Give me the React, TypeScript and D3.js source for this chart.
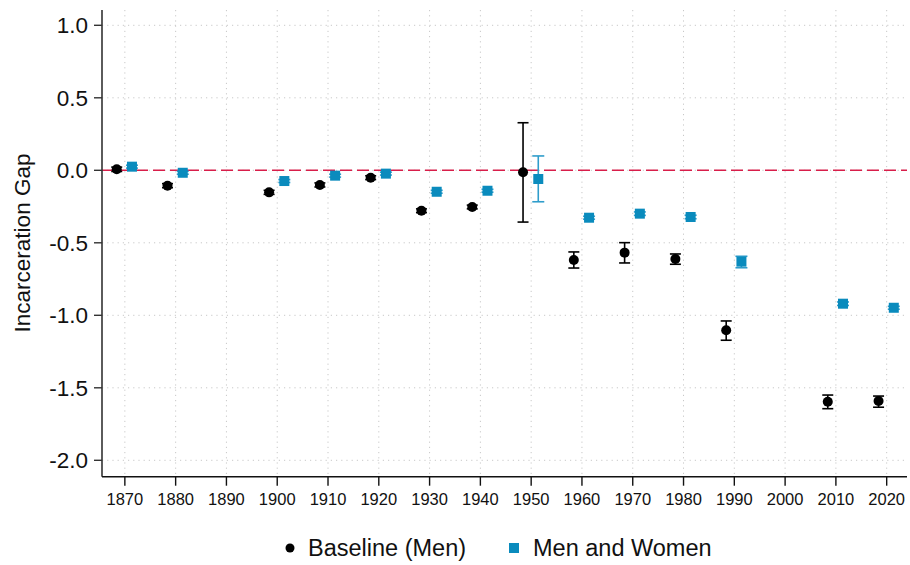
import React from "react";
import * as d3 from "d3";

const decades = [1870, 1880, 1900, 1910, 1920, 1930, 1940, 1950, 1960, 1970, 1980, 1990, 2010, 2020];
const baseline = [0.007, -0.106, -0.152, -0.101, -0.051, -0.279, -0.253, -0.014, -0.619, -0.568, -0.612, -1.103, -1.596, -1.591];
const baselineLo = [-0.008, -0.12, -0.166, -0.115, -0.064, -0.292, -0.266, -0.357, -0.674, -0.639, -0.648, -1.172, -1.644, -1.634];
const baselineHi = [0.022, -0.092, -0.138, -0.087, -0.038, -0.266, -0.24, 0.328, -0.563, -0.499, -0.577, -1.039, -1.55, -1.557];
const menWomen = [0.025, -0.017, -0.074, -0.037, -0.023, -0.148, -0.141, -0.06, -0.327, -0.299, -0.322, -0.63, -0.92, -0.948];
const menWomenLo = [0.015, -0.027, -0.084, -0.047, -0.033, -0.158, -0.151, -0.217, -0.337, -0.311, -0.334, -0.672, -0.932, -0.958];
const menWomenHi = [0.035, -0.007, -0.064, -0.027, -0.013, -0.138, -0.131, 0.099, -0.317, -0.287, -0.31, -0.593, -0.908, -0.938];
const xTicks = [1870, 1880, 1890, 1900, 1910, 1920, 1930, 1940, 1950, 1960, 1970, 1980, 1990, 2000, 2010, 2020];
const yTicks = [1.0, 0.5, 0.0, -0.5, -1.0, -1.5, -2.0];
const seriesNames = ["Baseline (Men)", "Men and Women"];

const BLACK = "#000000";
const BLUE = "#0a8bbd";
const BLUE_CI = "#2f9dcb";
const FONT = "'Liberation Sans', Arial, sans-serif";

export default function App() {
  const left = 102, right = 907, top = 10, bottom = 476.7;
  const x = d3.scaleLinear().domain([1865.5, 2024]).range([left, right]);
  const y = d3.scaleLinear().domain([0, 1]).range([170.3, 25.3]);
  const offB = -1.6, offM = 1.4;
  const fmt = (v: number) => d3.format(".1f")(v).replace("\u2212", "-");

  return (
    <svg width={910} height={565} style={{ position: "absolute", left: 0, top: 0, background: "#fff" }} fontFamily={FONT}>
      <rect x={0} y={0} width={910} height={565} fill="#fff" />
      {/* grid */}
      {xTicks.map((t) => (
        <line key={"gx" + t} x1={x(t)} x2={x(t)} y1={top} y2={bottom} stroke="#c8c8c8" strokeWidth={1} strokeDasharray="1.2,4" />
      ))}
      {yTicks.map((t) => (
        <line key={"gy" + t} x1={left} x2={right} y1={y(t)} y2={y(t)} stroke="#c8c8c8" strokeWidth={1} strokeDasharray="1.2,4" />
      ))}
      {/* zero line */}
      <line x1={left} x2={right} y1={y(0)} y2={y(0)} stroke="#d81e4a" strokeWidth={1.4} strokeDasharray="12,5" />
      {/* axes */}
      <line x1={left} x2={left} y1={top} y2={bottom} stroke="#333" strokeWidth={1.6} />
      <line x1={left} x2={right} y1={bottom} y2={bottom} stroke="#111" strokeWidth={1.6} />
      {yTicks.map((t) => (
        <g key={"yt" + t}>
          <line x1={left - 8} x2={left} y1={y(t)} y2={y(t)} stroke="#333" strokeWidth={1.4} />
          <text x={left - 14} y={y(t)} dy="0.36em" textAnchor="end" fontSize={22.5} fill="#111">
            {fmt(t)}
          </text>
        </g>
      ))}
      {xTicks.map((t) => (
        <g key={"xt" + t}>
          <line x1={x(t)} x2={x(t)} y1={bottom} y2={bottom + 9} stroke="#111" strokeWidth={1.4} />
          <text x={x(t)} y={bottom + 22} dy="0.36em" textAnchor="middle" fontSize={16.5} fill="#111">
            {t}
          </text>
        </g>
      ))}
      <text transform={`translate(29.5,243) rotate(-90)`} textAnchor="middle" fontSize={22.5} fill="#111">
        Incarceration Gap
      </text>
      {/* baseline series */}
      {decades.map((d, i) => {
        const cx = x(d + offB);
        return (
          <g key={"b" + d}>
            <line x1={cx} x2={cx} y1={y(baselineLo[i])} y2={y(baselineHi[i])} stroke={BLACK} strokeWidth={1.6} />
            <line x1={cx - 5.5} x2={cx + 5.5} y1={y(baselineLo[i])} y2={y(baselineLo[i])} stroke={BLACK} strokeWidth={1.6} />
            <line x1={cx - 5.5} x2={cx + 5.5} y1={y(baselineHi[i])} y2={y(baselineHi[i])} stroke={BLACK} strokeWidth={1.6} />
            <circle cx={cx} cy={y(baseline[i])} r={5} fill={BLACK} />
          </g>
        );
      })}
      {/* men and women series */}
      {decades.map((d, i) => {
        const cx = x(d + offM);
        return (
          <g key={"m" + d}>
            <line x1={cx} x2={cx} y1={y(menWomenLo[i])} y2={y(menWomenHi[i])} stroke={BLUE_CI} strokeWidth={1.6} />
            <line x1={cx - 6} x2={cx + 6} y1={y(menWomenLo[i])} y2={y(menWomenLo[i])} stroke={BLUE_CI} strokeWidth={1.6} />
            <line x1={cx - 6} x2={cx + 6} y1={y(menWomenHi[i])} y2={y(menWomenHi[i])} stroke={BLUE_CI} strokeWidth={1.6} />
            <rect x={cx - 5} y={y(menWomen[i]) - 5} width={10} height={10} fill={BLUE} />
          </g>
        );
      })}
      {/* legend */}
      <circle cx={290} cy={548} r={4.5} fill={BLACK} />
      <text x={308} y={548} dy="0.36em" fontSize={23.5} fill="#111">{seriesNames[0]}</text>
      <rect x={509} y={543} width={10} height={10} fill={BLUE} />
      <text x={533} y={548} dy="0.36em" fontSize={23.5} fill="#111">{seriesNames[1]}</text>
    </svg>
  );
}
